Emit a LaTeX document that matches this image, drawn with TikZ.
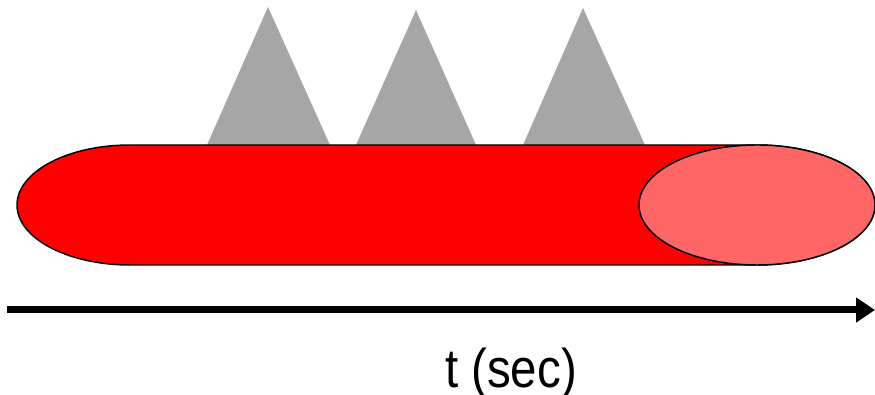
\documentclass[tikz,border=0pt]{standalone}
\usepackage{fontspec}
\setmainfont{Liberation Sans}
\usetikzlibrary{arrows.meta}
\definecolor{pulsegrey}{HTML}{A6A6A6}
\definecolor{bodyred}{HTML}{FF0000}
\definecolor{capred}{HTML}{FF6666}
\begin{document}
\begin{tikzpicture}[x=0.75pt,y=0.75pt,
  pulse/.style={fill=pulsegrey,draw=none},
  outline/.style={draw=black,line width=1.1pt},
  axis/.style={line width=5.25pt,-{Triangle[length=14.25pt,width=18pt]}},
  axislabel/.style={font=\fontsize{35.6}{40}\selectfont,anchor=base,inner sep=0pt}]
  \useasboundingbox (0,0) rectangle (875,395);
  \clip (0,0) rectangle (875,395);

  % grey pulses rising behind the tube
  \fill[pulse] (207,250) -- (268,388) -- (330,250) -- cycle;
  \fill[pulse] (356,250) -- (416,385) -- (476,250) -- cycle;
  \fill[pulse] (523,250) -- (583,387) -- (645,250) -- cycle;

  % the tube: rounded left end, straight body
  \path[outline,fill=bodyred] (130,250) -- (757,250)
    arc[start angle=90,end angle=-90,x radius=118,y radius=60]
    -- (130,130)
    arc[start angle=270,end angle=90,x radius=113,y radius=60] -- cycle;

  % open right end of the tube
  \path[outline,fill=capred] (757,190) ellipse[x radius=118,y radius=60];

  % time axis
  \coordinate (t0) at (7,85);
  \coordinate (t1) at (875,85);
  \draw[axis] (t0) -- (t1);
  \node[axislabel] (tlabel) at (511,7) {\scalebox{1}[1.15]{t (sec)}};
\end{tikzpicture}
\end{document}
